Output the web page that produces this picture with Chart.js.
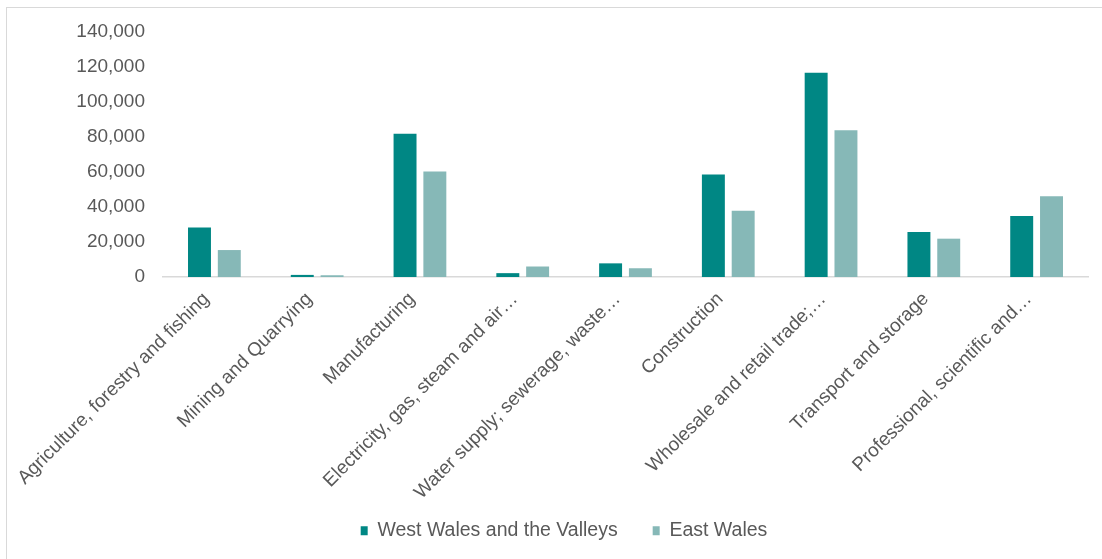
<!DOCTYPE html>
<html>
<head>
<meta charset="utf-8">
<script src="https://cdn.jsdelivr.net/npm/chart.js@4/dist/chart.umd.min.js"></script>
<style>
  body { margin: 0; background: #fff; }
  #frame { position: absolute; left: 6px; top: 7px; width: 1110px; height: 570px; border: 1px solid #d9d9d9; }
  #wrap { position: absolute; left: 0; top: 0; width: 1102px; height: 559px; }
</style>
</head>
<body>
<div id="frame"></div>
<div id="wrap"><canvas id="barChart"></canvas></div>
<script>
var industries = [
    "Agriculture, forestry and fishing",
    "Mining and Quarrying",
    "Manufacturing",
    "Electricity, gas, steam and air\u2026",
    "Water supply; sewerage, waste\u2026",
    "Construction",
    "Wholesale and retail trade;\u2026",
    "Transport and storage",
    "Professional, scientific and\u2026"
];
var westWales = [28300, 1200, 81900, 2200, 7800, 58600, 116700, 25700, 34900];
var eastWales = [15400, 1000, 60300, 6000, 5000, 37800, 83800, 21900, 46100];
var yTicks = [0, 20000, 40000, 60000, 80000, 100000, 120000, 140000];

var grey = '#595959';
var fontFam = '"Liberation Sans", Arial, sans-serif';

// legend sits a bit right of centre in the original, and wide padding pushes it down
var legendShift = {
    id: 'legendShift',
    afterLayout: function (chart) {
        chart.legend.left += 20;
        chart.legend.right += 20;
        chart.legend.top -= 13;
    }
};

var ctx = document.getElementById("barChart").getContext('2d');
var myBarChart = new Chart(ctx, {
    type: 'bar',
    data: {
        labels: industries,
        datasets: [{
            label: "West Wales and the Valleys",
            data: westWales,
            backgroundColor: '#008784',
            categoryPercentage: 0.58,
            barPercentage: 0.77
        }, {
            label: "East Wales",
            data: eastWales,
            backgroundColor: '#86b8b7',
            categoryPercentage: 0.58,
            barPercentage: 0.77
        }]
    },
    plugins: [legendShift],
    options: {
        responsive: true,
        maintainAspectRatio: false,
        animation: false,
        layout: { padding: { top: 32, right: 14, left: 0, bottom: 8 } },
        plugins: {
            tooltip: { enabled: false },
            legend: {
                position: 'bottom',
                maxHeight: 52,
                labels: {
                    color: grey,
                    font: { family: fontFam, size: 19.5 },
                    boxWidth: 7,
                    boxHeight: 9,
                    padding: 35
                }
            }
        },
        scales: {
            x: {
                grid: { display: false },
                border: { display: true, color: '#d9d9d9', width: 1.5 },
                ticks: {
                    color: grey,
                    font: { family: fontFam, size: 19 },
                    minRotation: 45,
                    maxRotation: 45,
                    autoSkip: false,
                    padding: 3,
                    labelOffset: -8
                },
                afterFit: function (scale) { scale.height = 222; }
            },
            y: {
                min: 0,
                max: yTicks[yTicks.length - 1],
                grid: { display: false, drawTicks: false },
                border: { display: false },
                afterBuildTicks: function (scale) {
                    scale.ticks = yTicks.map(function (v) { return { value: v }; });
                },
                ticks: {
                    color: grey,
                    font: { family: fontFam, size: 19 },
                    padding: 18,
                    callback: function (v) { return v.toLocaleString('en-US'); }
                },
                afterFit: function (scale) { scale.width = 163; }
            }
        }
    }
});
</script>
</body>
</html>
